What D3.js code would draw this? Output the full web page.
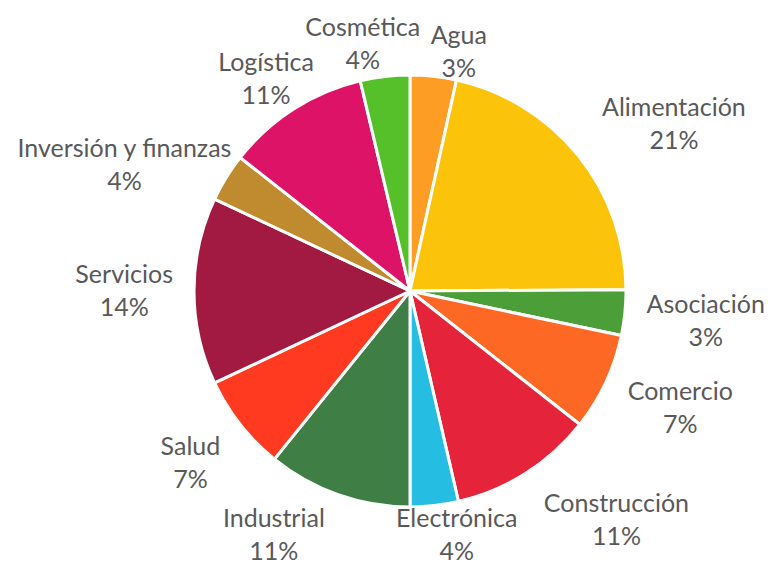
<!DOCTYPE html>
<html>
<head>
<meta charset="utf-8">
<script src="https://cdn.jsdelivr.net/npm/d3@7/dist/d3.min.js"></script>
<style>
  html, body { margin: 0; padding: 0; background: #ffffff; }
  svg { display: block; }
</style>
</head>
<body>
<svg id="chart" width="768" height="567"></svg>
<script>
// Sector shares (percent of companies)
const sectors = ["Agua", "Alimentación", "Asociación", "Comercio", "Construcción", "Electrónica",
                 "Industrial", "Salud", "Servicios", "Inversión y finanzas", "Logística", "Cosmética"];
const shares  = [3.45, 21.45, 3.4, 7.3, 10.8, 3.6, 10.8, 7.2, 14.0, 3.6, 10.7, 3.7];
const colors  = ["#FD9D24", "#FCC30B", "#4C9F38", "#FD6925", "#E5243B", "#26BDE2",
                 "#3F7E44", "#FF3A21", "#A21942", "#BF8B2E", "#DD1367", "#56C02B"];
// Small shifts applied to the outside-end label placement to avoid crowding
const labelNudge = [[20, 22], [23, -2], [0, 4], [7, 6], [40, 7], [13, -17],
                    [-40, -4], [-9, 10], [1, 0], [8, 12], [10, 10], [-13, 14]];

const width = 768, height = 567;
const cx = 410, cy = 291, radius = 216;
const labelGap = 22, halfBlock = 25;

const svg = d3.select("#chart");
const data = sectors.map((name, i) => ({ name, value: shares[i], color: colors[i], nudge: labelNudge[i] }));
const total = d3.sum(shares);
const pct = v => Math.round(v / total * 100) + "%";

const pie = d3.pie().value(d => d.value).sort(null).startAngle(0).endAngle(2 * Math.PI);
const arc = d3.arc().innerRadius(0).outerRadius(radius);
const arcs = pie(data);

const g = svg.append("g").attr("transform", `translate(${cx},${cy})`);

g.selectAll("path.slice")
  .data(arcs)
  .join("path")
  .attr("class", "slice")
  .attr("d", arc)
  .attr("fill", d => d.data.color)
  .attr("stroke", "#ffffff")
  .attr("stroke-width", 3)
  .attr("stroke-linejoin", "round");

// Two-line labels (name + percentage) placed outside each slice
const labels = g.selectAll("text.label")
  .data(arcs)
  .join("text")
  .attr("class", "label")
  .attr("text-anchor", "middle")
  .attr("font-family", "Lato, 'Open Sans', sans-serif")
  .attr("font-size", 25)
  .attr("fill", "#595959");

labels.append("tspan").attr("x", 0).attr("y", -8).text(d => d.data.name);
labels.append("tspan").attr("x", 0).attr("y", 25).text(d => pct(d.data.value));

labels.each(function(d) {
  const w = this.getBBox().width;
  const a = (d.startAngle + d.endAngle) / 2;
  const R = radius + labelGap;
  const x = (R + w / 2) * Math.sin(a) + d.data.nudge[0];
  const y = -(R + halfBlock) * Math.cos(a) + d.data.nudge[1];
  d3.select(this).attr("transform", `translate(${x},${y})`);
});
</script>
</body>
</html>
